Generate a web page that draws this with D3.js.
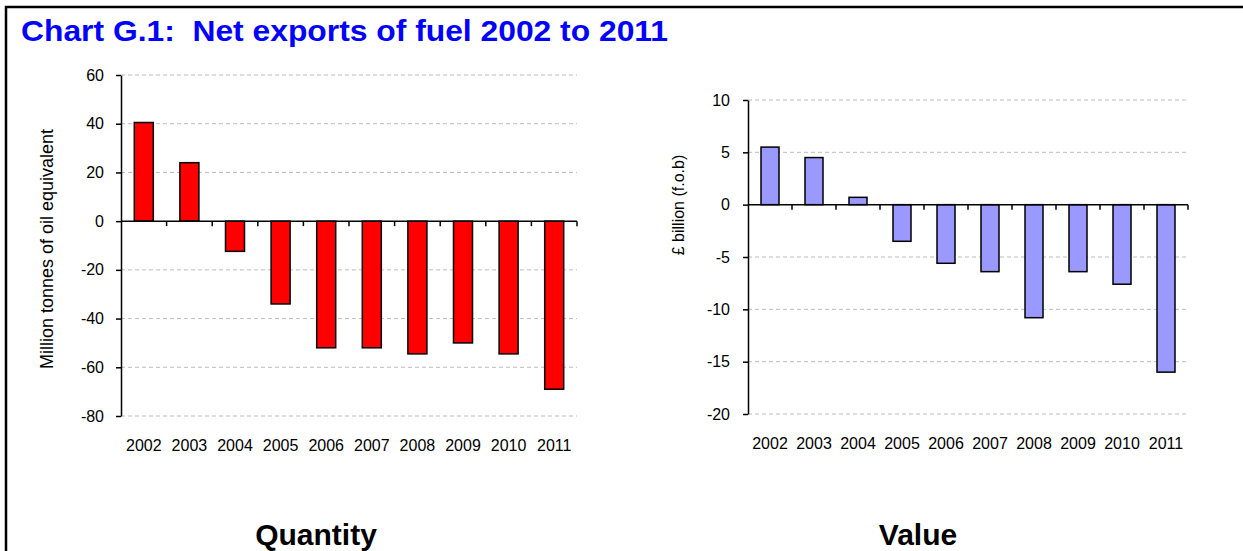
<!DOCTYPE html>
<html>
<head>
<meta charset="utf-8">
<script src="https://cdn.jsdelivr.net/npm/d3@7"></script>
<style>
  body { margin: 0; background: #fff; }
  svg { display: block; font-family: Arial, "Liberation Sans", sans-serif; }
</style>
</head>
<body>
<div id="chart"></div>
<script>
const years = ["2002","2003","2004","2005","2006","2007","2008","2009","2010","2011"];
const quantity = [40.5, 24, -12.4, -34, -52, -52, -54.5, -50, -54.5, -69];
const value = [5.5, 4.5, 0.7, -3.5, -5.6, -6.4, -10.8, -6.4, -7.6, -16];
const quantityTicks = [60, 40, 20, 0, -20, -40, -60, -80];
const valueTicks = [10, 5, 0, -5, -10, -15, -20];

const W = 1243, H = 551;

const svg = d3.select("#chart")
    .append("svg")
    .attr("width", W)
    .attr("height", H);

// frame (only top and left edges are in view)
svg.append("path")
    .attr("d", `M6,${H} V7 H${W}`)
    .attr("fill", "none")
    .attr("stroke", "#000")
    .attr("stroke-width", 2.5);

svg.append("text")
    .attr("x", 21)
    .attr("y", 41)
    .attr("font-size", "30px")
    .attr("font-weight", "bold")
    .attr("fill", "#0000ff")
    .attr("textLength", 647)
    .attr("lengthAdjust", "spacingAndGlyphs")
    .style("white-space", "pre")
    .text("Chart G.1:  Net exports of fuel 2002 to 2011");

function drawPanel(opts) {
    const g = svg.append("g");

    const x = d3.scaleBand()
        .domain(years)
        .range([opts.left, opts.right])
        .padding(0);

    const y = d3.scaleLinear()
        .domain(opts.domain)
        .range([opts.bottom, opts.top]);

    // gridlines
    g.selectAll(".grid")
        .data(opts.ticks.filter(d => d != 0))
        .enter().append("line")
        .attr("x1", opts.left)
        .attr("x2", opts.right)
        .attr("y1", d => y(d))
        .attr("y2", d => y(d))
        .attr("stroke", "#bdbdbd")
        .attr("stroke-width", 1)
        .attr("stroke-dasharray", "4,3");

    // bars
    g.selectAll(".bar")
        .data(opts.values)
        .enter().append("rect")
        .attr("class", "bar")
        .attr("x", (d, i) => x(years[i]) + (x.bandwidth() - opts.barW) / 2)
        .attr("y", d => y(Math.max(0, d)))
        .attr("width", opts.barW)
        .attr("height", d => Math.abs(y(d) - y(0)))
        .attr("fill", opts.color)
        .attr("stroke", "#000")
        .attr("stroke-width", 1.5);

    // y axis
    const yAxis = g.append("g")
        .attr("transform", `translate(${opts.left},0)`)
        .call(d3.axisLeft(y)
            .tickValues(opts.ticks)
            .tickFormat(d => String(d))
            .tickSize(5)
            .tickSizeOuter(0)
            .tickPadding(opts.tickPad));
    yAxis.select(".domain").attr("stroke", "#000").attr("stroke-width", 1.5);
    yAxis.selectAll(".tick line").attr("stroke", "#000").attr("stroke-width", 1.5);
    yAxis.selectAll("text")
        .attr("font-size", "16px")
        .attr("fill", "#000")
        .attr("font-family", "Arial, 'Liberation Sans', sans-serif");

    // zero line with tick marks between categories
    g.append("line")
        .attr("x1", opts.left)
        .attr("x2", opts.right)
        .attr("y1", y(0))
        .attr("y2", y(0))
        .attr("stroke", "#000")
        .attr("stroke-width", 1.5);
    g.selectAll(".xtick")
        .data(years)
        .enter().append("line")
        .attr("x1", d => x(d) + x.bandwidth())
        .attr("x2", d => x(d) + x.bandwidth())
        .attr("y1", y(0))
        .attr("y2", y(0) + 5)
        .attr("stroke", "#000")
        .attr("stroke-width", 1.5);

    // category labels
    g.selectAll(".xlab")
        .data(years)
        .enter().append("text")
        .attr("x", d => x(d) + x.bandwidth() / 2)
        .attr("y", opts.labelY)
        .attr("text-anchor", "middle")
        .attr("font-size", "16px")
        .attr("fill", "#000")
        .text(d => d);

    // y label
    g.append("text")
        .attr("transform", `translate(${opts.ylabX},${opts.ylabY}) rotate(-90)`)
        .attr("text-anchor", "middle")
        .attr("font-size", opts.ylabSize)
        .attr("fill", "#000")
        .text(opts.ylabel);

    // panel title
    g.append("text")
        .attr("x", opts.titleX)
        .attr("y", 545)
        .attr("text-anchor", "middle")
        .attr("font-size", "30px")
        .attr("font-weight", "bold")
        .attr("fill", "#000")
        .text(opts.title);
}

drawPanel({
    values: quantity, ticks: quantityTicks, domain: [-80, 60],
    left: 121, right: 577, top: 75, bottom: 416,
    barW: 19, color: "#ff0000", labelY: 451, tickPad: 12,
    ylabel: "Million tonnes of oil equivalent", ylabX: 53, ylabY: 249, ylabSize: "18px",
    title: "Quantity", titleX: 316
});

drawPanel({
    values: value, ticks: valueTicks, domain: [-20, 10],
    left: 748, right: 1188, top: 100, bottom: 414,
    barW: 18, color: "#9999ff", labelY: 449, tickPad: 13,
    ylabel: "£ billion (f.o.b)", ylabX: 684, ylabY: 205, ylabSize: "16px",
    title: "Value", titleX: 918
});
</script>
</body>
</html>
